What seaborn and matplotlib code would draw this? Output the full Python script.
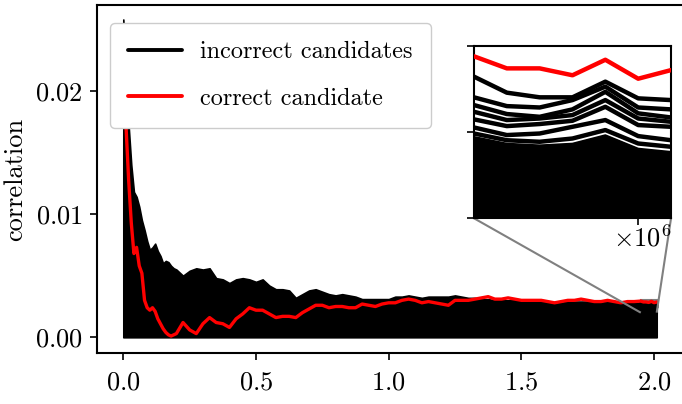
import numpy as np
import pandas as pd
import matplotlib
matplotlib.use("Agg")
import matplotlib.pyplot as plt
import seaborn as sns
from matplotlib.lines import Line2D
from mpl_toolkits.axes_grid1.inset_locator import mark_inset

# ---------------- data ----------------
# number of traces at which the correlation was evaluated
traces = np.concatenate([
    np.round(np.arange(0.0, 0.2001, 0.01), 3),
    np.round(np.arange(0.225, 1.9251, 0.025), 3),
    np.round(np.arange(1.95, 2.0101, 0.01), 3),
]) * 1e6

# correct key candidate
correct = [
    0.0215, 0.0172, 0.0128, 0.0093, 0.0068, 0.0073, 0.0058, 0.0052, 0.0030, 0.0024,
    0.0022, 0.0024, 0.0021, 0.0015, 0.0011, 0.0007, 0.0004, 0.0002, 0.0001, 0.0002,
    0.0003,
    0.0012, 0.0006, 0.0003, 0.0011, 0.0016, 0.0012, 0.0011, 0.0008, 0.0015, 0.0019,
    0.0024, 0.0022, 0.0022, 0.0019, 0.0016, 0.0017, 0.0017, 0.0016, 0.0020, 0.0023,
    0.0026, 0.0026, 0.0024, 0.0025, 0.0025, 0.0024, 0.0024, 0.0027, 0.0026, 0.0025,
    0.0027, 0.0028, 0.0028, 0.0030, 0.0031, 0.0030, 0.0028, 0.0029, 0.0028, 0.0027,
    0.0026, 0.0030, 0.0030, 0.0030, 0.0031, 0.0032, 0.0033, 0.0031, 0.0031, 0.0032,
    0.0031, 0.0030, 0.0030, 0.0030, 0.0030, 0.0029, 0.0028, 0.0029, 0.0030, 0.0030,
    0.0031, 0.0030, 0.0029, 0.0029, 0.0030, 0.0029, 0.0028, 0.0029, 0.0029,
    0.00294, 0.00287, 0.00287, 0.00283, 0.00292, 0.00281, 0.00286,
]

# upper edge of the band formed by all incorrect candidates
incorrect_max = [
    0.0258, 0.0215, 0.0172, 0.0140, 0.0118, 0.0114, 0.0106, 0.0095, 0.0087, 0.0078,
    0.0071, 0.0073, 0.0076, 0.0070, 0.0066, 0.0060, 0.0062, 0.0061, 0.0058, 0.0056,
    0.0055,
    0.0050, 0.0054, 0.0056, 0.0055, 0.0056, 0.0048, 0.0047, 0.0044, 0.0047, 0.0048,
    0.0047, 0.0045, 0.0047, 0.0042, 0.0039, 0.0039, 0.0038, 0.0032, 0.0035, 0.0038,
    0.0039, 0.0037, 0.0035, 0.0034, 0.0035, 0.0034, 0.0033, 0.0031, 0.0031, 0.0031,
    0.0031, 0.0031, 0.0033, 0.0033, 0.0034, 0.0033, 0.0032, 0.0033, 0.0033, 0.0033,
    0.0033, 0.0034, 0.0033, 0.0032, 0.0032, 0.0031, 0.0031, 0.0030, 0.0030, 0.0030,
    0.0030, 0.0029, 0.0029, 0.0029, 0.0029, 0.0028, 0.0027, 0.0028, 0.0029, 0.0029,
    0.0029, 0.0029, 0.0028, 0.0028, 0.0029, 0.0028, 0.0027, 0.0028, 0.0028,
    0.00282, 0.00273, 0.00270, 0.00270, 0.00279, 0.00270, 0.00269,
]
assert len(traces) == len(correct) == len(incorrect_max)

# the last evaluations (zoomed region): highest incorrect candidates
tail_traces = traces[-7:]
tail_lines = {
    "c1": [0.002822, 0.002729, 0.002702, 0.002702, 0.002793, 0.002696, 0.002686],
    "c2": [0.002702, 0.002651, 0.002643, 0.002686, 0.002764, 0.002643, 0.002632],
    "c3": [0.002657, 0.002605, 0.002589, 0.002632, 0.002734, 0.002609, 0.002585],
    "c4": [0.002618, 0.002570, 0.002579, 0.002599, 0.002686, 0.002579, 0.002560],
    "c5": [0.002574, 0.002535, 0.002547, 0.002566, 0.002647, 0.002541, 0.002531],
    "c6": [0.002527, 0.002483, 0.002492, 0.002531, 0.002570, 0.002477, 0.002453],
    "c7": [0.002492, 0.002453, 0.002444, 0.002463, 0.002512, 0.002434, 0.002415],
}
# below this the remaining incorrect candidates overlap completely
tail_dense = [0.002473, 0.002434, 0.002424, 0.002434, 0.002483, 0.002405, 0.002386]

legend_labels = ["incorrect candidates", "correct candidate"]

# ---------------- style ----------------
sns.set_style("ticks")
plt.rcParams.update({
    "font.family": ["cmr10", "DejaVu Serif"],
    "mathtext.fontset": "cm",
    "axes.formatter.use_mathtext": True,
    "axes.edgecolor": "black",
    "axes.linewidth": 1.5,
    "xtick.color": "black",
    "ytick.color": "black",
    "text.color": "black",
    "axes.labelcolor": "black",
    "font.size": 19,
})

fig = plt.figure(figsize=(6.82, 4.04), dpi=100)
ax = fig.add_axes([0.1417, 0.127, 0.8603, 0.8599])

df_main = pd.DataFrame({"traces": traces, "correlation": correct})
long_tail = pd.DataFrame(
    [(t, v, k) for k, vals in tail_lines.items() for t, v in zip(tail_traces, vals)],
    columns=["traces", "correlation", "candidate"],
)


def draw(a, lw, fill_top, fill_x):
    a.fill_between(fill_x, 0, fill_top, facecolor="black", edgecolor="black",
                   lw=1.2, zorder=1.5)
    sns.lineplot(data=long_tail, x="traces", y="correlation", hue="candidate",
                 palette=["black"] * len(tail_lines), estimator=None, sort=False,
                 lw=lw, legend=False, ax=a, zorder=2)
    sns.lineplot(data=df_main, x="traces", y="correlation", color="red",
                 estimator=None, sort=False, lw=lw, ax=a, zorder=3)


draw(ax, 2.4, incorrect_max, traces)
ax.set_xlim(-0.1005e6, 2.1105e6)
ax.set_ylim(-0.00125, 0.02695)
ax.set_xticks([0, 0.5e6, 1.0e6, 1.5e6, 2.0e6])
ax.set_yticks([0.0, 0.01, 0.02])
ax.set_xlabel("")
ax.set_ylabel("correlation")
ax.yaxis.set_label_coords(-0.119, 0.5)
ax.tick_params(length=5, width=1.2, pad=5)
ax.tick_params(axis="x", pad=8)
ax.xaxis.get_offset_text().set_visible(False)

handles = [Line2D([], [], color="black", lw=2.8), Line2D([], [], color="red", lw=2.8)]
leg = ax.legend(handles, legend_labels, loc="upper left",
                bbox_to_anchor=(0.0228, 0.949), borderaxespad=0.0,
                fontsize=17.5, labelspacing=1.0, borderpad=0.75,
                handlelength=2.2, handletextpad=0.75,
                framealpha=1, edgecolor="0.8", fancybox=True)

# ---------------- inset ----------------
axins = fig.add_axes([0.695, 0.4597, 0.2889, 0.4265])
draw(axins, 3.2, tail_dense, tail_traces)
axins.set_xlim(1.95e6, 2.01e6)
axins.set_ylim(0.002, 0.003)
axins.set_xticks([2.0e6])
axins.set_yticks([0.002, 0.0025, 0.003])
axins.set_xlabel("")
axins.set_ylabel("")
axins.tick_params(labelbottom=False, labelleft=False, length=5, width=1.2)
axins.text(1.0, -0.035, r"$\times10^{6}$", transform=axins.transAxes,
           ha="right", va="top")

pp, p1, p2 = mark_inset(ax, axins, loc1=3, loc2=4, fc="none", ec="0.5", lw=1.5)
pp.set_zorder(0.5)

fig.savefig("out.png", dpi=100)
